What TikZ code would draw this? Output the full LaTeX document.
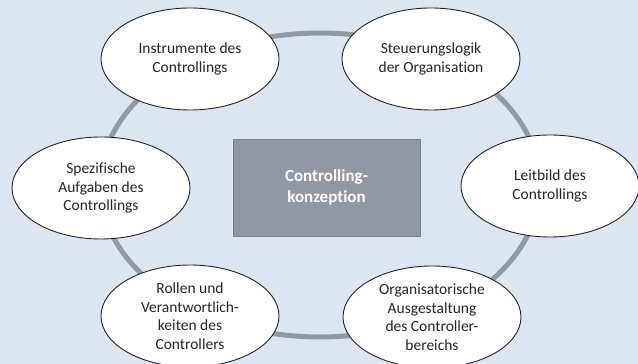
\documentclass[tikz,border=0pt]{standalone}
\usepackage{fontspec}
\setmainfont[Ligatures=NoCommon]{Carlito}
\usepackage{tikz}
\usetikzlibrary{shapes.geometric, positioning}

\definecolor{bgblue}{RGB}{220,230,242}
\definecolor{ringgray}{RGB}{146,152,164}
\definecolor{boxgray}{RGB}{145,151,165}
\definecolor{boxedge}{RGB}{118,126,144}
\definecolor{ovaledge}{RGB}{30,36,48}

\begin{document}
\begin{tikzpicture}[x=1pt, y=1pt]
\tikzstyle{topic}=[ellipse, draw=ovaledge, line width=0.9pt, fill=white, minimum width=178pt, minimum height=102pt, inner sep=0pt, align=center, text=black!85, font=\fontsize{15.5}{18.6}\selectfont]
\tikzstyle{core}=[rectangle, draw=boxedge, fill=boxgray, minimum width=187pt, minimum height=97pt, align=center, text=white, font=\fontsize{17}{21}\selectfont\bfseries]
\tikzstyle{ring}=[draw=ringgray, line width=5pt]

% Specify the radii of the ring
\def\ringx{220pt}
\def\ringy{152pt}

% Background and page size
\fill[bgblue] (0,0) rectangle (638,364);
\useasboundingbox (0,0) rectangle (638,364);

% Draw the ring behind the topics
\coordinate (R) at (320,179);
\draw[ring] (R) ellipse ({\ringx} and {\ringy});

% Draw the topics around the ring
\foreach \name/\x/\y/\txt in {
    I/190/305/{Instrumente des\\Controllings},
    S/431/305/{Steuerungslogik\\der Organisation},
    L/550/178/{Leitbild des\\Controllings},
    O/432/47/{Organisatorische\\Ausgestaltung\\des Controller-\\bereichs},
    V/190/48/{Rollen und\\Verantwortlich-\\keiten des\\Controllers},
    A/101/176/{Spezifische\\Aufgaben des\\Controllings}}
  \node[topic] (\name) at (\x,\y) {\txt};

% Draw the centre box
\node[core] (K) at (326.5,176.5) {Controlling-\\konzeption};

\end{tikzpicture}
\end{document}
